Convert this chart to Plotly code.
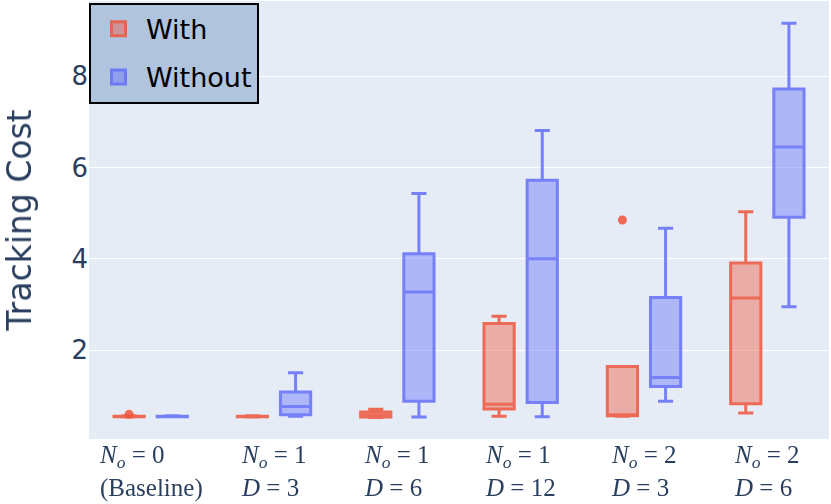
import plotly.graph_objects as go

# ---- data ----
categories = [
    "<i>N</i><sub><i>o</i></sub> = 0<br>(Baseline)",
    "<i>N</i><sub><i>o</i></sub> = 1<br><i>D</i> = 3",
    "<i>N</i><sub><i>o</i></sub> = 1<br><i>D</i> = 6",
    "<i>N</i><sub><i>o</i></sub> = 1<br><i>D</i> = 12",
    "<i>N</i><sub><i>o</i></sub> = 2<br><i>D</i> = 3",
    "<i>N</i><sub><i>o</i></sub> = 2<br><i>D</i> = 6",
]

with_low = [0.53, 0.53, 0.52, 0.55, 0.55, 0.62]
with_q1 = [0.54, 0.54, 0.53, 0.71, 0.56, 0.82]
with_med = [0.54, 0.54, 0.57, 0.81, 0.57, 3.14]
with_q3 = [0.55, 0.55, 0.64, 2.58, 1.64, 3.91]
with_high = [0.56, 0.56, 0.70, 2.74, 1.64, 5.03]
with_outlier_idx = [0, 4]
with_outlier_val = [0.59, 4.85]

without_low = [0.54, 0.55, 0.53, 0.54, 0.88, 2.95]
without_q1 = [0.54, 0.58, 0.88, 0.85, 1.20, 4.91]
without_med = [0.55, 0.76, 3.27, 4.00, 1.40, 6.45]
without_q3 = [0.55, 1.08, 4.11, 5.72, 3.15, 7.72]
without_high = [0.56, 1.50, 5.43, 6.81, 4.67, 9.16]

y_ticks = [2, 4, 6, 8]

# ---- styling ----
RED = "#EF553B"
BLUE = "#636EFA"
RED_FILL = "rgba(239,85,59,0.5)"
BLUE_FILL = "rgba(99,110,250,0.5)"
OFF = 0.175
BW = 0.245
OPAC = 0.85

idx = list(range(len(categories)))

fig = go.Figure()
fig.add_trace(go.Box(
    name="With", legendgroup="with", showlegend=False,
    x=[i - OFF for i in idx],
    q1=with_q1, median=with_med, q3=with_q3,
    lowerfence=with_low, upperfence=with_high,
    width=BW, whiskerwidth=0.5,
    line=dict(color=RED, width=3),
    fillcolor=RED_FILL,
    opacity=OPAC,
    boxpoints=False,
))
fig.add_trace(go.Box(
    name="Without", legendgroup="without", showlegend=False,
    x=[i + OFF for i in idx],
    q1=without_q1, median=without_med, q3=without_q3,
    lowerfence=without_low, upperfence=without_high,
    width=BW, whiskerwidth=0.5,
    line=dict(color=BLUE, width=3),
    fillcolor=BLUE_FILL,
    opacity=OPAC,
    boxpoints=False,
))
fig.add_trace(go.Scatter(
    x=[i - OFF for i in with_outlier_idx],
    y=with_outlier_val,
    mode="markers",
    marker=dict(color=RED, size=9),
    opacity=OPAC,
    showlegend=False,
    hoverinfo="y",
))
# legend entries (larger square icons)
for nm, grp, fc, lc in [("With", "with", RED_FILL, RED), ("Without", "without", BLUE_FILL, BLUE)]:
    fig.add_trace(go.Scatter(
        x=[None], y=[None], mode="markers", name=nm, legendgroup=grp,
        marker=dict(symbol="square", size=14, color=fc, line=dict(color=lc, width=3)),
        opacity=OPAC,
    ))

for i, lab in enumerate(categories):
    fig.add_annotation(
        x=i, xref="x", y=0, yref="paper",
        yanchor="top", xanchor="center", yshift=-1,
        text=lab, align="left", showarrow=False, borderpad=0,
        font=dict(family="Liberation Serif", size=25, color="#2a3f5f"),
    )

fig.update_layout(
    width=831, height=504,
    margin=dict(l=89, r=2, t=1, b=65),
    font=dict(family="DejaVu Sans", color="#2a3f5f"),
    plot_bgcolor="#E5ECF6",
    paper_bgcolor="white",
    showlegend=True,
    legend=dict(
        x=0, y=0.996, xanchor="left", yanchor="top",
        bgcolor="#B0C4DE", bordercolor="black", borderwidth=2,
        font=dict(family="DejaVu Sans", size=27, color="black"),
        itemwidth=45, itemsizing="trace",
    ),
    xaxis=dict(
        range=[-0.5, 5.5], showticklabels=False, showgrid=False,
        zeroline=False, automargin=False,
    ),
    yaxis=dict(
        range=[0.05, 9.65], tickvals=y_ticks,
        tickfont=dict(size=26, color="#2a3f5f"),
        gridcolor="white", zeroline=False, automargin=False,
        title=dict(text="Tracking Cost", font=dict(size=33, color="#2a3f5f"), standoff=30),
    ),
)

fig.write_html(
    "out.html",
    config={"displayModeBar": False},
    post_script="document.body.style.margin='0';document.body.style.overflow='hidden';",
)
